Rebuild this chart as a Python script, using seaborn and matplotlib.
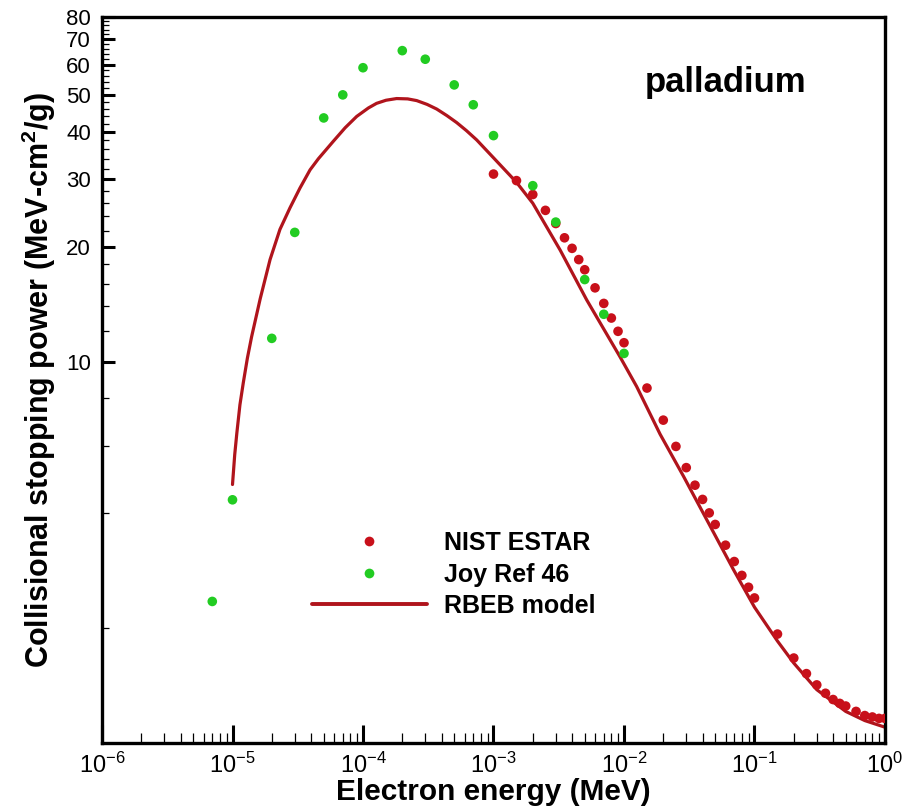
import numpy as np
import pandas as pd
import matplotlib
matplotlib.use("Agg")
import matplotlib.pyplot as plt
import seaborn as sns
from matplotlib.ticker import FixedLocator, FixedFormatter, NullFormatter
from matplotlib.lines import Line2D

# ---------------- data ----------------
nist_energy = [1e-3, 1.5e-3, 2e-3, 2.5e-3, 3e-3, 3.5e-3, 4e-3, 4.5e-3, 5e-3, 6e-3,
               7e-3, 8e-3, 9e-3, 1e-2, 1.5e-2, 2e-2, 2.5e-2, 3e-2, 3.5e-2, 4e-2,
               4.5e-2, 5e-2, 6e-2, 7e-2, 8e-2, 9e-2, 0.1, 0.15, 0.2, 0.25,
               0.3, 0.35, 0.4, 0.45, 0.5, 0.6, 0.7, 0.8, 0.9, 1.0]
nist_power = [31.0, 29.8, 27.4, 24.9, 23.0, 21.1, 19.8, 18.5, 17.4, 15.6,
              14.2, 13.0, 12.0, 11.2, 8.52, 7.02, 5.99, 5.27, 4.74, 4.35,
              4.01, 3.74, 3.30, 2.99, 2.75, 2.56, 2.40, 1.93, 1.67, 1.52,
              1.42, 1.35, 1.30, 1.27, 1.25, 1.21, 1.18, 1.17, 1.16, 1.16]

joy_energy = [7e-6, 1e-5, 2e-5, 3e-5, 5e-5, 7e-5, 1e-4, 2e-4, 3e-4, 5e-4,
              7e-4, 1e-3, 2e-3, 3e-3, 5e-3, 7e-3, 1e-2]
joy_power = [2.35, 4.34, 11.5, 21.8, 43.5, 50.0, 58.9, 65.3, 62.0, 53.1,
             47.1, 39.1, 28.9, 23.2, 16.4, 13.3, 10.5]

rbeb_energy = [1.0e-5, 1.04e-5, 1.08e-5, 1.14e-5, 1.21e-5, 1.3e-5, 1.4e-5, 1.63e-5,
               1.94e-5, 2.31e-5, 2.76e-5, 3.29e-5, 3.93e-5, 4.55e-5, 5.93e-5, 7.3e-5,
               8.95e-5, 1.1e-4, 1.27e-4, 1.5e-4, 1.81e-4, 2.2e-4, 2.58e-4, 3.1e-4,
               3.67e-4, 4.4e-4, 5.22e-4, 6.2e-4, 7.43e-4, 1.0e-3, 1.5e-3, 2.0e-3,
               3.24e-3, 5.18e-3, 9.3e-3, 1.25e-2, 1.89e-2, 2.85e-2, 4.56e-2, 6.89e-2,
               0.1, 0.15, 0.2, 0.3, 0.5, 0.7, 1.0]
rbeb_power = [4.76, 5.7, 6.5, 7.7, 8.8, 10.2, 11.6, 14.6,
              18.5, 22.2, 25.3, 28.5, 31.8, 34.0, 37.8, 41.0,
              43.9, 46.2, 47.5, 48.4, 48.9, 48.8, 48.3, 47.2,
              45.9, 44.1, 42.3, 40.3, 38.1, 34.2, 29.5, 26.0,
              19.6, 14.5, 10.3, 8.6, 6.45, 5.01, 3.71, 2.85,
              2.27, 1.85, 1.62, 1.38, 1.21, 1.145, 1.10]

x_major = [1e-6, 1e-5, 1e-4, 1e-3, 1e-2, 1e-1, 1e0]
x_labels = [r"$\mathregular{10^{-6}}$", r"$\mathregular{10^{-5}}$", r"$\mathregular{10^{-4}}$",
            r"$\mathregular{10^{-3}}$", r"$\mathregular{10^{-2}}$", r"$\mathregular{10^{-1}}$",
            r"$\mathregular{10^{0}}$"]
y_major = [10, 20, 30, 40, 50, 60, 70, 80]
y_labels = ["10", "20", "30", "40", "50", "60", "70", "80"]
y_minor = [2, 4, 6, 8] + [v for v in range(12, 80, 2) if v % 10 != 0]

series_names = ["NIST ESTAR", "Joy Ref 46", "RBEB model"]

# ---------------- style ----------------
sns.set_style("white")
plt.rcParams["font.family"] = ["Liberation Sans", "DejaVu Sans"]
plt.rcParams["mathtext.fontset"] = "custom"
plt.rcParams["mathtext.rm"] = "Liberation Sans"
plt.rcParams["mathtext.bf"] = "Liberation Sans:bold"
plt.rcParams["mathtext.it"] = "Liberation Sans:italic"
plt.rcParams["text.color"] = "black"
plt.rcParams["axes.labelcolor"] = "black"
plt.rcParams["xtick.color"] = "black"
plt.rcParams["ytick.color"] = "black"

red = "#C8101A"
line_red = "#B0141C"
green = "#22CC22"

fig = plt.figure(figsize=(9.13, 8.07), dpi=100)
ax = fig.add_axes([0.11172, 0.07931, 0.85761, 0.89963])
ax.set_xscale("log")
ax.set_yscale("log")

rbeb_df = pd.DataFrame({"energy": rbeb_energy, "power": rbeb_power})
nist_df = pd.DataFrame({"energy": nist_energy, "power": nist_power})
joy_df = pd.DataFrame({"energy": joy_energy, "power": joy_power})

sns.lineplot(data=rbeb_df, x="energy", y="power", ax=ax, color=line_red,
             linewidth=2.3, sort=False, estimator=None, legend=False, zorder=2)
sns.scatterplot(data=nist_df, x="energy", y="power", ax=ax, color=red, s=48,
                edgecolor="none", linewidth=0, legend=False, zorder=3)
sns.scatterplot(data=joy_df, x="energy", y="power", ax=ax, color=green, s=48,
                edgecolor="none", linewidth=0, legend=False, zorder=4)

ax.set_xlim(1e-6, 1.0)
ax.set_ylim(1.0, 80)

# ticks
ax.xaxis.set_major_locator(FixedLocator(x_major))
ax.xaxis.set_major_formatter(FixedFormatter(x_labels))
x_minor = [k * 10.0 ** d for d in range(-6, 0) for k in range(2, 10)]
ax.xaxis.set_minor_locator(FixedLocator(x_minor))
ax.xaxis.set_minor_formatter(NullFormatter())
ax.yaxis.set_major_locator(FixedLocator(y_major))
ax.yaxis.set_major_formatter(FixedFormatter(y_labels))
ax.yaxis.set_minor_locator(FixedLocator(y_minor))
ax.yaxis.set_minor_formatter(NullFormatter())

ax.tick_params(axis="x", which="major", direction="in", length=13, width=2.2,
               labelsize=17, pad=7, bottom=True, top=False, colors="black")
ax.tick_params(axis="x", which="minor", direction="in", length=7, width=0.9,
               bottom=True, top=False, colors="black")
ax.tick_params(axis="y", which="major", direction="in", length=9, width=2.2,
               labelsize=16, pad=8, left=True, right=False, colors="black")
ax.tick_params(axis="y", which="minor", direction="in", length=5, width=0.9,
               left=True, right=False, colors="black")

for sp in ax.spines.values():
    sp.set_linewidth(2.4)
    sp.set_color("black")

ax.set_xlabel("Electron energy (MeV)", fontsize=21.5, fontweight="bold", color="black")
ax.xaxis.set_label_coords(0.5, -0.0785)
ax.xaxis.label.set_va("baseline")
ax.set_ylabel(r"Collisional stopping power (MeV-cm$^\mathbf{2}$/g)", fontsize=22,
              fontweight="bold", labelpad=6, color="black")

ax.text(0.693, 0.897, "palladium", transform=ax.transAxes, fontsize=25,
        fontweight="bold", ha="left", va="baseline", color="black")

handles = [
    Line2D([], [], marker="o", linestyle="none", color=red, markersize=7, markeredgewidth=0),
    Line2D([], [], marker="o", linestyle="none", color=green, markersize=7, markeredgewidth=0),
    Line2D([], [], color=line_red, linewidth=2.8),
]
leg = ax.legend(handles, series_names, loc="center left", bbox_to_anchor=(0.268, 0.232),
                frameon=False, fontsize=18, handlelength=4.6, handletextpad=0.7,
                labelspacing=0.3, borderpad=0, borderaxespad=0)
for t in leg.get_texts():
    t.set_fontweight("bold")
    t.set_color("black")

fig.savefig("out.png", dpi=100)
